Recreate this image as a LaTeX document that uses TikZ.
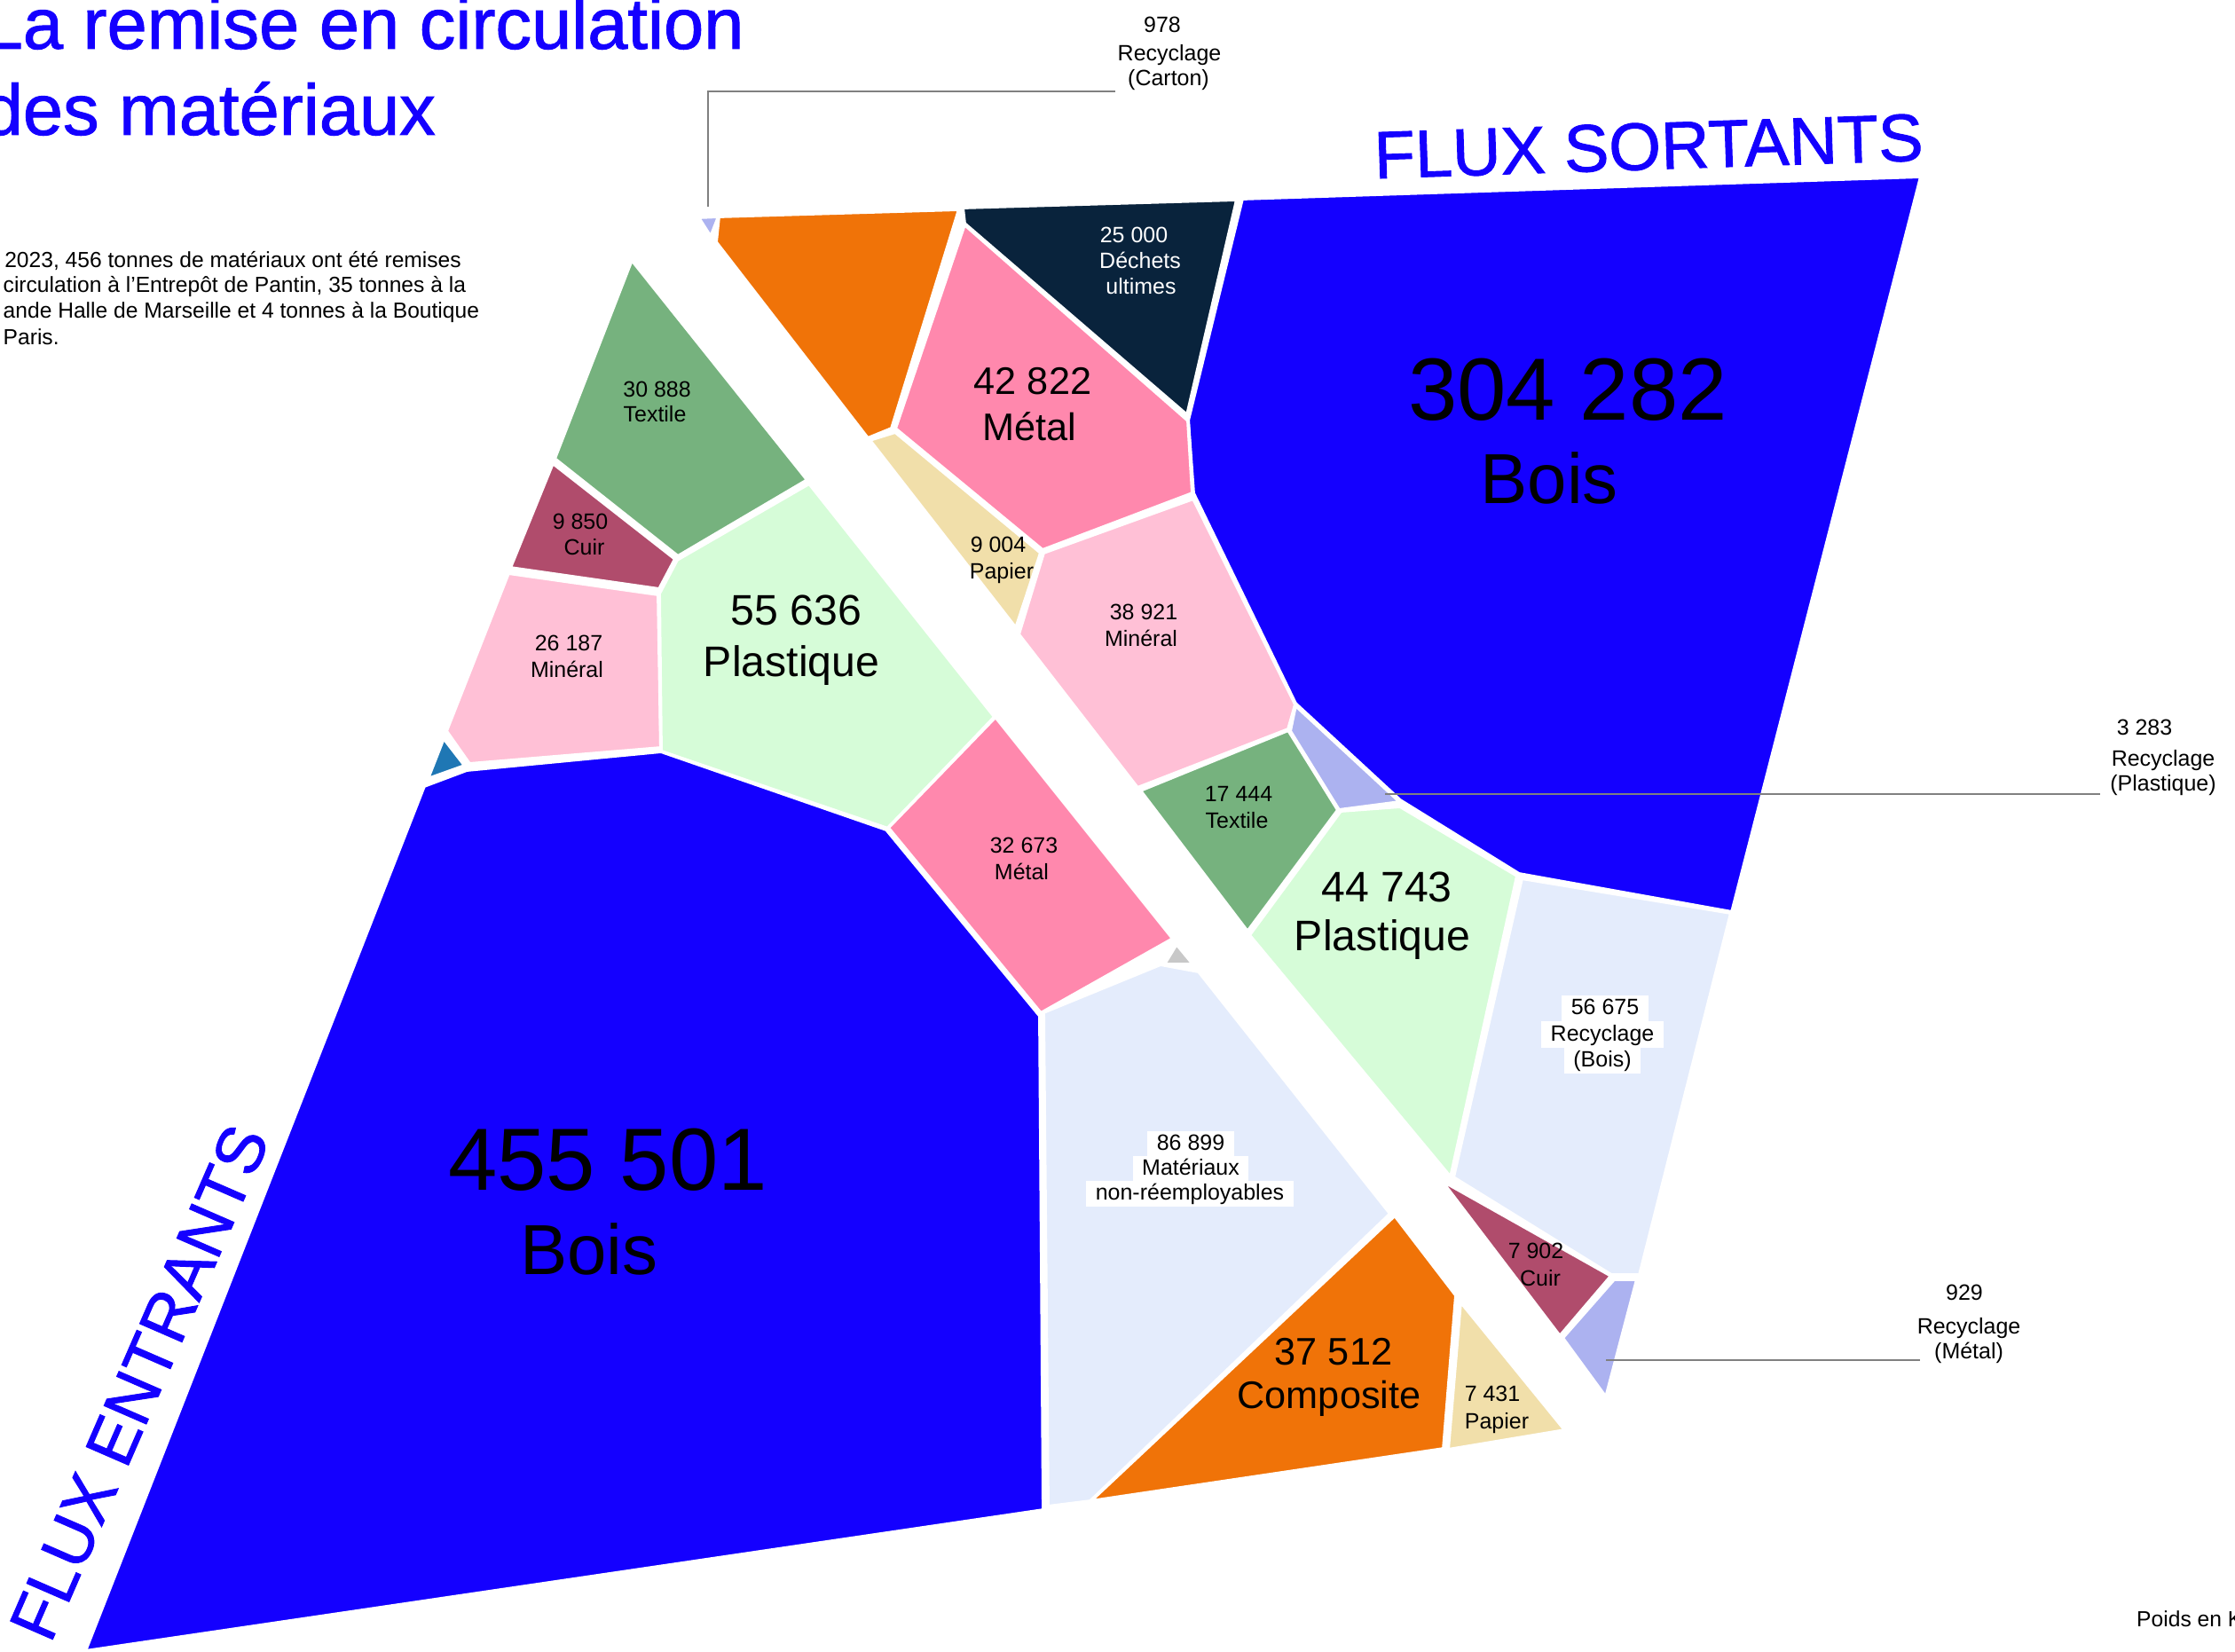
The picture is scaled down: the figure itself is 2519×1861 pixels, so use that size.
\documentclass[tikz,border=0pt]{standalone}
\usepackage{fontspec}
\setmainfont{Liberation Sans}
\newfontfamily\medfont[FakeBold=1.2]{Liberation Sans}
\definecolor{fluxblue}{RGB}{20,0,255}
\definecolor{orangeC}{RGB}{240,115,8}
\definecolor{navyC}{RGB}{9,35,60}
\definecolor{pinkM}{RGB}{255,136,173}
\definecolor{papierC}{RGB}{241,223,170}
\definecolor{mineralC}{RGB}{255,192,214}
\definecolor{textileC}{RGB}{118,178,126}
\definecolor{cuirC}{RGB}{176,76,108}
\definecolor{plastC}{RGB}{214,252,216}
\definecolor{triblue}{RGB}{31,119,180}
\definecolor{greyC}{RGB}{200,200,200}
\definecolor{textureL}{RGB}{228,236,252}
\definecolor{textureD}{RGB}{172,178,240}
\definecolor{leadC}{RGB}{128,128,128}
\tikzset{
  poly/.style={draw=white, line width=1.1pt, line join=round},
  lab/.style={anchor=base, inner sep=0pt, font=\fontsize{7.1}{8.5}\selectfont},
  labw/.style={lab, fill=white, inner xsep=3pt, inner ysep=0.6pt, text height=5.6pt, text depth=1.6pt},
  labwhite/.style={lab, text=white},
  med/.style={anchor=base, inner sep=0pt, font=\fontsize{12.3}{14}\selectfont},
  medl/.style={anchor=base, inner sep=0pt, font=\fontsize{13.7}{16}\selectfont},
  bignum/.style={anchor=base, inner sep=0pt, font=\fontsize{28.3}{30}\selectfont},
  bigword/.style={anchor=base, inner sep=0pt, font=\fontsize{22.7}{26}\selectfont},
  flux/.style={inner sep=0pt, text=fluxblue, font=\medfont\fontsize{21.5}{24}\selectfont},
  titlet/.style={anchor=base west, inner sep=0pt, text=fluxblue, font=\medfont\fontsize{23.1}{27}\selectfont},
  para/.style={anchor=base west, inner sep=0pt, font=\fontsize{7}{8.2}\selectfont},
  leader/.style={draw=leadC, line width=0.45pt}
}
\begin{document}
\begin{tikzpicture}[x=0.01cm,y=-0.01cm]
\useasboundingbox (0,0) rectangle (2519,1861);
\clip (0,0) rectangle (2519,1861);

% ---------- FLUX SORTANTS side ----------
\fill[poly, fill=textureD] (787,245) -- (810,244) -- (801,267) -- cycle;
\fill[poly, fill=orangeC] (810,244) -- (1081,236) -- (1005,483) -- (978,494) -- (807,273) -- cycle;
\fill[poly, fill=navyC] (1085,234) -- (1394,225) -- (1338,468) -- (1087,252) -- cycle;
\fill[poly, fill=fluxblue] (1400,224) -- (2165,199) -- (1952,1028) -- (1712,985) -- (1578,902) -- (1460,793) -- (1345,556) -- (1339,474) -- cycle;
\fill[poly, fill=pinkM] (1087,253) -- (1339,474) -- (1344,556) -- (1175,620) -- (1009,483) -- cycle;
\fill[poly, fill=papierC] (980,496) -- (1009,487) -- (1173,623) -- (1145,708) -- cycle;
\fill[poly, fill=mineralC] (1176,623) -- (1345,562) -- (1460,794) -- (1452,822) -- (1282,888) -- (1148,715) -- cycle;
\fill[poly, fill=textureD] (1460,795) -- (1578,904) -- (1509,913) -- (1454,824) -- cycle;
\fill[poly, fill=textileC] (1452,823) -- (1508,913) -- (1406,1050) -- (1285,891) -- cycle;
\fill[poly, fill=plastC] (1511,914) -- (1578,909) -- (1710,987) -- (1635,1327) -- (1408,1054) -- cycle;
\fill[poly, fill=textureL] (1715,990) -- (1951,1029) -- (1848,1437) -- (1816,1437) -- (1638,1327) -- cycle;
\fill[poly, fill=cuirC] (1624,1330) -- (1816,1438) -- (1758,1506) -- cycle;
\fill[poly, fill=textureD] (1819,1442) -- (1845,1442) -- (1810,1575) -- (1761,1508) -- cycle;

% ---------- FLUX ENTRANTS side ----------
\fill[poly, fill=textileC] (712,293) -- (910,541) -- (764,627) -- (625,517) -- cycle;
\fill[poly, fill=cuirC] (623,522) -- (761,630) -- (743,664) -- (575,640) -- cycle;
\fill[poly, fill=mineralC] (573,646) -- (742,670) -- (745,843) -- (529,861) -- (503,824) -- cycle;
\fill[poly, fill=triblue] (500,832) -- (482,878) -- (524,863) -- cycle;
\fill[poly, fill=plastC] (912,545) -- (1121,808) -- (1001,934) -- (745,847) -- (743,669) -- (763,631) -- cycle;
\fill[poly, fill=pinkM] (1122,808) -- (1322,1058) -- (1173,1142) -- (1001,933) -- cycle;
\fill[poly, fill=greyC] (1312,1087) -- (1326,1064) -- (1345,1087) -- cycle;
\fill[poly, fill=fluxblue] (478,886) -- (526,868) -- (745,847) -- (999,935) -- (1172,1145) -- (1176,1702) -- (96,1861) -- cycle;
\fill[poly, fill=textureL] (1176,1141) -- (1308,1087) -- (1351,1095) -- (1567,1368) -- (1229,1692) -- (1181,1698) -- cycle;
\fill[poly, fill=orangeC] (1572,1370) -- (1641,1460) -- (1627,1633) -- (1229,1692) -- cycle;
\fill[poly, fill=papierC] (1646,1467) -- (1764,1612) -- (1632,1634) -- cycle;

% ---------- leader lines ----------
\coordinate (cartonA) at (798,233);
\coordinate (cartonB) at (1257,103);
\draw[leader] (cartonA) |- (cartonB);
\coordinate (plastA) at (1561,895);
\coordinate (plastB) at (2367,895);
\draw[leader] (plastA) -- (plastB);
\coordinate (metA) at (1810,1533);
\coordinate (metB) at (2164,1533);
\draw[leader] (metA) -- (metB);

% ---------- titles ----------
\node[titlet] (title1) at (-20,55) {La remise en circulation};
\node[titlet] (title2) at (-20,152) {des matériaux};
\node[para] (para1) at (4.6,301.7) {2023, 456 tonnes de matériaux ont été remises};
\node[para] (para2) at (3,330) {circulation à l’Entrepôt de Pantin, 35 tonnes à la};
\node[para] (para3) at (3,358.3) {ande Halle de Marseille et 4 tonnes à la Boutique};
\node[para] (para4) at (3,388.3) {Paris.};
\node[para] (poids) at (2407.5,1833) {Poids en K};
\node[flux, rotate=1.9] (fluxS) at (1858,165) {FLUX SORTANTS};
\node[flux, rotate=66.5] (fluxE) at (157,1558) {FLUX ENTRANTS};

% ---------- outside labels ----------
\node[lab] (carA) at (1310,36.7) {978};
\node[lab] (carB) at (1318,68.3) {Recyclage};
\node[lab] (carC) at (1317,96.7) {(Carton)};
\node[lab] (rplA) at (2417,828.3) {3 283};
\node[lab] (rplB) at (2438,863.3) {Recyclage};
\node[lab] (rplC) at (2438,891.7) {(Plastique)};
\node[lab] (rmeA) at (2214,1465) {929};
\node[lab] (rmeB) at (2219,1503.3) {Recyclage};
\node[lab] (rmeC) at (2219,1531.7) {(Métal)};

% ---------- sortants labels ----------
\node[labwhite] (decA) at (1278,273.3) {25 000};
\node[labwhite] (decB) at (1285,302.7) {Déchets};
\node[labwhite] (decC) at (1286,331.7) {ultimes};
\node[bignum] (boisSa) at (1767,473) {304 282};
\node[bigword] (boisSb) at (1746,567) {Bois};
\node[med] (metSa) at (1164,444.6) {42 822};
\node[med] (metSb) at (1160,496) {Métal};
\node[lab] (papSa) at (1125,622.2) {9 004};
\node[lab] (papSb) at (1129,652.9) {Papier};
\node[lab] (minSa) at (1289,698.2) {38 921};
\node[lab] (minSb) at (1286,728) {Minéral};
\node[lab] (texSa) at (1396,903.5) {17 444};
\node[lab] (texSb) at (1394,933.4) {Textile};
\node[medl] (plaSa) at (1563,1016) {44 743};
\node[medl] (plaSb) at (1558,1071.8) {Plastique};
\node[labw] (rboA) at (1809,1143.4) {56 675};
\node[labw] (rboB) at (1806,1173) {Recyclage};
\node[labw] (rboC) at (1806,1202) {(Bois)};
\node[lab] (cuiSa) at (1731,1418.9) {7 902};
\node[lab] (cuiSb) at (1736,1449.5) {Cuir};

% ---------- entrants labels ----------
\node[lab] (texEa) at (740.6,447) {30 888};
\node[lab] (texEb) at (738,475.9) {Textile};
\node[lab] (cuiEa) at (654,596) {9 850};
\node[lab] (cuiEb) at (658.5,625) {Cuir};
\node[lab] (minEa) at (641,733) {26 187};
\node[lab] (minEb) at (639,763) {Minéral};
\node[medl] (plaEa) at (897.5,704) {55 636};
\node[medl] (plaEb) at (892,762) {Plastique};
\node[lab] (metEa) at (1154,961.6) {32 673};
\node[lab] (metEb) at (1151.5,991.5) {Métal};
\node[bignum] (boisEa) at (685,1341) {455 501};
\node[bigword] (boisEb) at (664,1436) {Bois};
\node[labw] (matA) at (1342,1296.4) {86 899};
\node[labw] (matB) at (1342,1324.5) {Matériaux};
\node[labw] (matC) at (1341,1352.5) {non-réemployables};
\node[med] (comA) at (1503,1538.8) {37 512};
\node[med] (comB) at (1498,1587) {Composite};
\node[lab] (papEa) at (1682,1579.6) {7 431};
\node[lab] (papEb) at (1687,1610) {Papier};
\end{tikzpicture}
\end{document}
